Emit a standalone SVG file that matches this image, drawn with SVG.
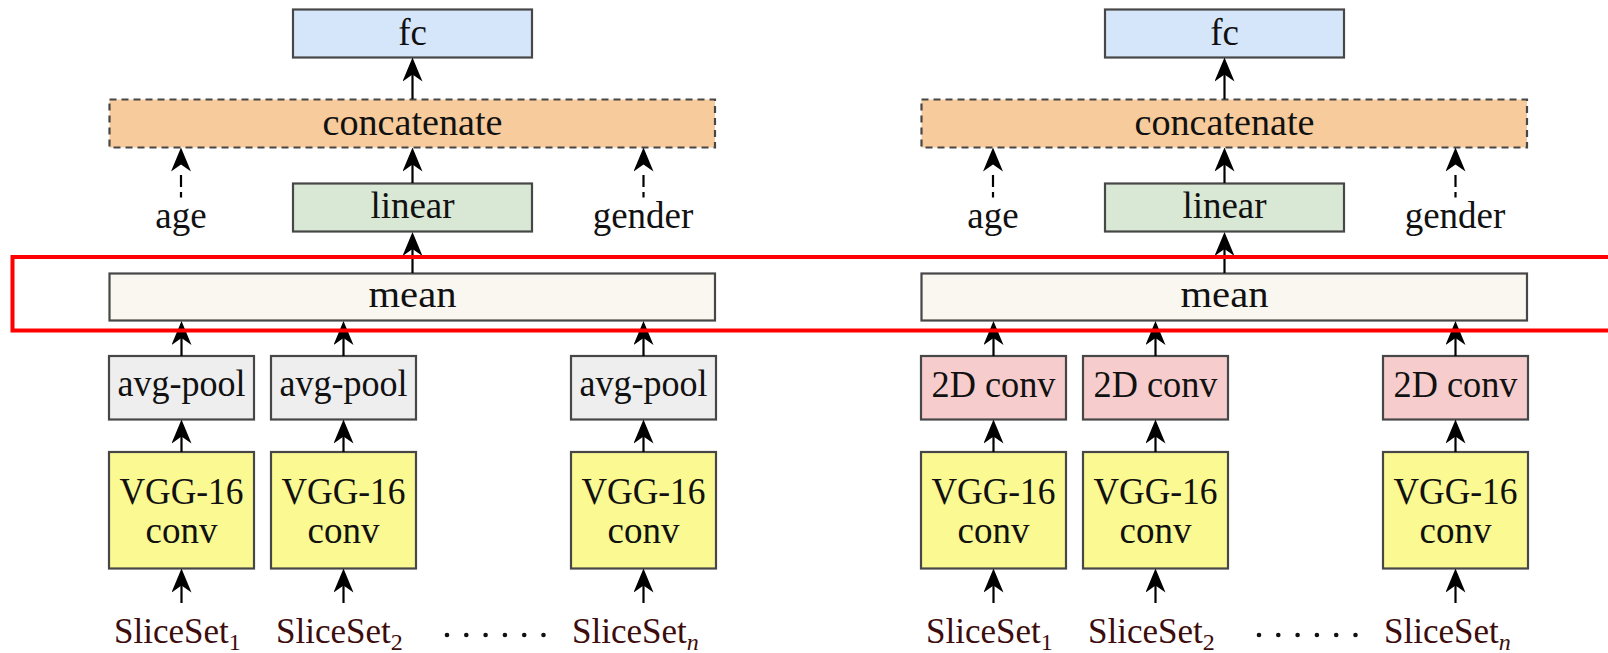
<svg xmlns="http://www.w3.org/2000/svg" width="1608" height="653" viewBox="0 0 1608 653">
  <style>
    .box { stroke: #474747; stroke-width: 2.2; }
    .dash { stroke-dasharray: 7 5; }
    .fc { fill: #d6e6fa; }
    .cat { fill: #f7cb9b; }
    .lin { fill: #d9e8d5; }
    .mean { fill: #f9f7ef; }
    .pool { fill: #eeeeee; }
    .c2d { fill: #f6cdcc; }
    .vgg { fill: #fbf991; }
    text { font-family: "Liberation Serif", "Times New Roman", serif; font-size: 37px; fill: #111; text-anchor: middle; }
    .in { font-size: 35px; fill: #3d0c0c; text-anchor: start; }
    .sub { font-size: 24px; }
    .arr { stroke: #000; stroke-width: 2.2; fill: none; marker-end: url(#head); }
    .darr { stroke-dasharray: 5.5 5 12 20; }
    .dots { fill: #111; }
    .hl { fill: none; stroke: #ff0000; stroke-width: 4; }
  </style>
  <defs>
    <marker id="head" viewBox="0 0 24 20" refX="11" refY="10" markerWidth="24" markerHeight="20" markerUnits="userSpaceOnUse" orient="auto">
      <path d="M24,10 L0,0 L7,10 L0,20 Z" fill="#000"/>
    </marker>
  </defs>

  <rect width="1608" height="653" fill="#ffffff"/>

  <!-- left model: average pooling -->
  <g id="fc-a"><rect class="box fc" x="293" y="9.5" width="239" height="48"/><text x="412.5" y="45">fc</text></g>
  <g id="concat-a"><rect class="box cat dash" x="109.5" y="99.5" width="605.5" height="48"/><text x="412.5" y="135" textLength="180" lengthAdjust="spacingAndGlyphs">concatenate</text></g>
  <g id="age-a"><text x="181" y="228">age</text></g>
  <g id="gender-a"><text x="643" y="228">gender</text></g>
  <g id="linear-a"><rect class="box lin" x="293" y="183.5" width="239" height="48"/><text x="412.5" y="218">linear</text></g>
  <g id="mean-a"><rect class="box mean" x="109.5" y="273.5" width="605.5" height="47"/><text x="412.5" y="307" textLength="88" lengthAdjust="spacingAndGlyphs">mean</text></g>
  <g id="pool-a1"><rect class="box pool" x="109" y="356" width="145" height="63.5"/><text x="181.5" y="396" textLength="128" lengthAdjust="spacingAndGlyphs">avg-pool</text></g>
  <g id="pool-a2"><rect class="box pool" x="271" y="356" width="145" height="63.5"/><text x="343.5" y="396" textLength="128" lengthAdjust="spacingAndGlyphs">avg-pool</text></g>
  <g id="pool-an"><rect class="box pool" x="571" y="356" width="145" height="63.5"/><text x="643.5" y="396" textLength="128" lengthAdjust="spacingAndGlyphs">avg-pool</text></g>
  <g id="vgg-a1"><rect class="box vgg" x="109" y="452" width="145" height="116.5"/><text x="181.5" y="504" textLength="124" lengthAdjust="spacingAndGlyphs">VGG-16</text><text x="181.5" y="543">conv</text></g>
  <g id="vgg-a2"><rect class="box vgg" x="271" y="452" width="145" height="116.5"/><text x="343.5" y="504" textLength="124" lengthAdjust="spacingAndGlyphs">VGG-16</text><text x="343.5" y="543">conv</text></g>
  <g id="vgg-an"><rect class="box vgg" x="571" y="452" width="145" height="116.5"/><text x="643.5" y="504" textLength="124" lengthAdjust="spacingAndGlyphs">VGG-16</text><text x="643.5" y="543">conv</text></g>
  <g id="input-a1"><text class="in" x="114" y="643">SliceSet<tspan class="sub" dy="7">1</tspan></text></g>
  <g id="input-a2"><text class="in" x="276" y="643">SliceSet<tspan class="sub" dy="7">2</tspan></text></g>
  <g id="dots-a" class="dots">
    <circle cx="447" cy="635" r="2.3"/><circle cx="466.3" cy="635" r="2.3"/><circle cx="485.6" cy="635" r="2.3"/>
    <circle cx="504.9" cy="635" r="2.3"/><circle cx="524.2" cy="635" r="2.3"/><circle cx="543.5" cy="635" r="2.3"/>
  </g>
  <g id="input-an"><text class="in" x="572" y="643">SliceSet<tspan class="sub" dy="7" font-style="italic">n</tspan></text></g>

  <!-- right model: 2D convolution -->
  <g id="fc-b"><rect class="box fc" x="1105" y="9.5" width="239" height="48"/><text x="1224.5" y="45">fc</text></g>
  <g id="concat-b"><rect class="box cat dash" x="921.5" y="99.5" width="605.5" height="48"/><text x="1224.5" y="135" textLength="180" lengthAdjust="spacingAndGlyphs">concatenate</text></g>
  <g id="age-b"><text x="993" y="228">age</text></g>
  <g id="gender-b"><text x="1455" y="228">gender</text></g>
  <g id="linear-b"><rect class="box lin" x="1105" y="183.5" width="239" height="48"/><text x="1224.5" y="218">linear</text></g>
  <g id="mean-b"><rect class="box mean" x="921.5" y="273.5" width="605.5" height="47"/><text x="1224.5" y="307" textLength="88" lengthAdjust="spacingAndGlyphs">mean</text></g>
  <g id="conv-b1"><rect class="box c2d" x="921" y="356" width="145" height="63.5"/><text x="993.5" y="397" textLength="124" lengthAdjust="spacingAndGlyphs">2D conv</text></g>
  <g id="conv-b2"><rect class="box c2d" x="1083" y="356" width="145" height="63.5"/><text x="1155.5" y="397" textLength="124" lengthAdjust="spacingAndGlyphs">2D conv</text></g>
  <g id="conv-bn"><rect class="box c2d" x="1383" y="356" width="145" height="63.5"/><text x="1455.5" y="397" textLength="124" lengthAdjust="spacingAndGlyphs">2D conv</text></g>
  <g id="vgg-b1"><rect class="box vgg" x="921" y="452" width="145" height="116.5"/><text x="993.5" y="504" textLength="124" lengthAdjust="spacingAndGlyphs">VGG-16</text><text x="993.5" y="543">conv</text></g>
  <g id="vgg-b2"><rect class="box vgg" x="1083" y="452" width="145" height="116.5"/><text x="1155.5" y="504" textLength="124" lengthAdjust="spacingAndGlyphs">VGG-16</text><text x="1155.5" y="543">conv</text></g>
  <g id="vgg-bn"><rect class="box vgg" x="1383" y="452" width="145" height="116.5"/><text x="1455.5" y="504" textLength="124" lengthAdjust="spacingAndGlyphs">VGG-16</text><text x="1455.5" y="543">conv</text></g>
  <g id="input-b1"><text class="in" x="926" y="643">SliceSet<tspan class="sub" dy="7">1</tspan></text></g>
  <g id="input-b2"><text class="in" x="1088" y="643">SliceSet<tspan class="sub" dy="7">2</tspan></text></g>
  <g id="dots-b" class="dots">
    <circle cx="1259" cy="635" r="2.3"/><circle cx="1278.3" cy="635" r="2.3"/><circle cx="1297.6" cy="635" r="2.3"/>
    <circle cx="1316.9" cy="635" r="2.3"/><circle cx="1336.2" cy="635" r="2.3"/><circle cx="1355.5" cy="635" r="2.3"/>
  </g>
  <g id="input-bn"><text class="in" x="1384" y="643">SliceSet<tspan class="sub" dy="7" font-style="italic">n</tspan></text></g>

  <!-- connectors: each line ends 13px short of the tip, the marker supplies the rest -->
  <g id="connectors">
    <line class="arr" x1="412.5" y1="99" x2="412.5" y2="70.5"/>
    <line class="arr" x1="412.5" y1="183" x2="412.5" y2="160.5"/>
    <line class="arr" x1="412.5" y1="273" x2="412.5" y2="245"/>
    <line class="arr darr" x1="181" y1="197.5" x2="181" y2="160.5"/>
    <line class="arr darr" x1="643.5" y1="197.5" x2="643.5" y2="160.5"/>
    <line class="arr" x1="181.5" y1="356" x2="181.5" y2="334"/>
    <line class="arr" x1="343.5" y1="356" x2="343.5" y2="334"/>
    <line class="arr" x1="643.5" y1="356" x2="643.5" y2="334"/>
    <line class="arr" x1="181.5" y1="452" x2="181.5" y2="432.5"/>
    <line class="arr" x1="343.5" y1="452" x2="343.5" y2="432.5"/>
    <line class="arr" x1="643.5" y1="452" x2="643.5" y2="432.5"/>
    <line class="arr" x1="181.5" y1="603" x2="181.5" y2="581.5"/>
    <line class="arr" x1="343.5" y1="603" x2="343.5" y2="581.5"/>
    <line class="arr" x1="643.5" y1="603" x2="643.5" y2="581.5"/>

    <line class="arr" x1="1224.5" y1="99" x2="1224.5" y2="70.5"/>
    <line class="arr" x1="1224.5" y1="183" x2="1224.5" y2="160.5"/>
    <line class="arr" x1="1224.5" y1="273" x2="1224.5" y2="245"/>
    <line class="arr darr" x1="993" y1="197.5" x2="993" y2="160.5"/>
    <line class="arr darr" x1="1455.5" y1="197.5" x2="1455.5" y2="160.5"/>
    <line class="arr" x1="993.5" y1="356" x2="993.5" y2="334"/>
    <line class="arr" x1="1155.5" y1="356" x2="1155.5" y2="334"/>
    <line class="arr" x1="1455.5" y1="356" x2="1455.5" y2="334"/>
    <line class="arr" x1="993.5" y1="452" x2="993.5" y2="432.5"/>
    <line class="arr" x1="1155.5" y1="452" x2="1155.5" y2="432.5"/>
    <line class="arr" x1="1455.5" y1="452" x2="1455.5" y2="432.5"/>
    <line class="arr" x1="993.5" y1="603" x2="993.5" y2="581.5"/>
    <line class="arr" x1="1155.5" y1="603" x2="1155.5" y2="581.5"/>
    <line class="arr" x1="1455.5" y1="603" x2="1455.5" y2="581.5"/>
  </g>

  <!-- highlight band around the mean layer -->
  <rect id="highlight" class="hl" x="12.5" y="257" width="1610" height="73.5"/>
</svg>
